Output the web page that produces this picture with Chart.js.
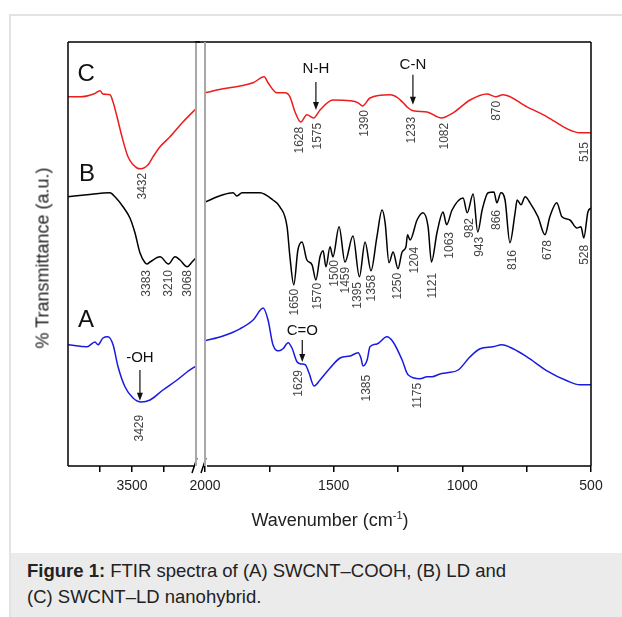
<!DOCTYPE html>
<html>
<head>
<meta charset="utf-8">
<script src="https://cdn.jsdelivr.net/npm/chart.js@4.4.1/dist/chart.umd.min.js"></script>
<style>
    body { margin: 0; background: #fff; font-family: "Liberation Sans", Arial, sans-serif; }
    #page { position: relative; width: 622px; height: 617px; overflow: hidden; background: #fff; }
    #frame { position: absolute; left: 9px; top: 14px; width: 660px; height: 660px; border: 2px solid #e3e3e3; }
    #caption { position: absolute; left: 11px; top: 553px; width: 640px; height: 70px; background: #ebebeb;
               color: #222; font-size: 18.5px; line-height: 26px; padding: 5px 0 0 16px; box-sizing: border-box; }
    #leftWrap { position: absolute; left: 0; top: 0; width: 200px; height: 520px; }
    #rightWrap { position: absolute; left: 180px; top: 0; width: 442px; height: 520px; }
    .ytitle { position: absolute; left: 43px; top: 258px; transform: translate(-50%, -50%) rotate(-90deg);
              white-space: nowrap; font-size: 18px; color: #222; }
    .xtitle { position: absolute; left: 330px; top: 520px; transform: translate(-50%, -50%);
              white-space: nowrap; font-size: 18px; color: #222; }
    .xtitle sup { font-size: 11px; }
</style>
</head>
<body>
<div id="page">
    <div id="frame"></div>
    <div id="leftWrap"><canvas id="leftChart" width="200" height="520"></canvas></div>
    <div id="rightWrap"><canvas id="rightChart" width="442" height="520"></canvas></div>
    <div class="ytitle">% Transmittance (a.u.)</div>
    <div class="xtitle">Wavenumber (cm<sup>-1</sup>)</div>
    <div id="caption"><b>Figure 1:</b> FTIR spectra of (A) SWCNT–COOH, (B) LD and<br>(C) SWCNT–LD nanohybrid.</div>
</div>
<script>
// spectrum C : SWCNT-LD nanohybrid (wavenumber / transmittance a.u.)
const wnC = [4000, 3906, 3800, 3750, 3727, 3672, 3648, 3617, 3578, 3531, 3461, 3432, 3375, 3336, 3281, 3203, 3102, 3000,
    2000, 1930, 1864, 1813, 1770, 1755, 1720, 1689, 1670, 1650, 1628, 1604, 1578, 1553, 1503, 1436, 1405, 1388, 1359,
    1281, 1250, 1230, 1210, 1191, 1137, 1082, 1036, 970, 904, 870, 842, 749, 671, 593, 543, 500];
const trC = [92.3, 92.3, 93.0, 93.8, 93.0, 92.8, 91.0, 87.3, 82.3, 77.3, 74.5, 74.3, 75.3, 77.3, 79.8, 82.3, 86.0, 89.3,
    93.3, 94.3, 95.0, 95.8, 97.3, 95.8, 93.3, 93.3, 92.3, 88.5, 86.0, 87.8, 87.0, 89.0, 91.5, 91.3, 90.8, 90.0, 92.0,
    92.8, 92.0, 90.8, 89.5, 88.8, 88.5, 87.0, 88.3, 91.5, 93.0, 92.3, 92.8, 89.8, 87.3, 84.3, 83.3, 83.3];

// spectrum B : LD
const wnB = [4000, 3852, 3672, 3633, 3570, 3516, 3477, 3438, 3398, 3383, 3359, 3281, 3215, 3164, 3125, 3070, 3031, 3000,
    2000, 1930, 1891, 1876, 1856, 1786, 1736, 1709, 1681, 1670, 1655, 1639, 1623, 1604, 1584, 1569, 1553, 1541, 1530,
    1514, 1503, 1479, 1456, 1425, 1400, 1378, 1355, 1332, 1312, 1300, 1285, 1269, 1250, 1234, 1219, 1213, 1203, 1176,
    1153, 1133, 1120, 1098, 1075, 1061, 1040, 997, 981, 958, 940, 923, 900, 877, 866, 850, 834, 815, 795, 787, 772,
    756, 737, 706, 679, 660, 633, 613, 582, 555, 539, 528, 512, 500];
const trB = [67.3, 67.8, 68.3, 67.3, 64.8, 62.0, 58.3, 53.3, 50.8, 50.5, 51.0, 52.3, 50.5, 52.3, 51.5, 49.8, 51.0, 52.0,
    66.0, 67.8, 68.3, 67.5, 68.3, 68.3, 66.5, 64.8, 59.8, 52.3, 45.3, 54.0, 56.0, 51.5, 50.3, 46.5, 52.3, 53.8, 49.8,
    54.8, 52.3, 59.8, 51.0, 57.5, 47.3, 56.0, 48.8, 57.3, 64.0, 60.8, 50.8, 53.5, 49.3, 53.5, 54.8, 57.8, 56.5, 61.5,
    63.3, 59.8, 51.0, 58.5, 63.5, 60.3, 64.0, 67.0, 63.3, 68.0, 58.5, 64.0, 68.3, 68.5, 65.8, 68.3, 66.5, 55.8, 63.3, 66.5, 65.3,
    67.3, 65.8, 62.3, 57.8, 62.3, 65.8, 62.3, 61.5, 59.5, 59.8, 57.0, 63.5, 64.5];

// spectrum A : SWCNT-COOH
const wnA = [4000, 3852, 3789, 3766, 3727, 3688, 3648, 3609, 3555, 3492, 3429, 3359, 3258, 3148, 3070, 3000,
    2000, 1930, 1864, 1813, 1774, 1755, 1736, 1712, 1697, 1677, 1662, 1642, 1625, 1610, 1596, 1576, 1553, 1514, 1475,
    1436, 1405, 1394, 1386, 1370, 1359, 1332, 1293, 1269, 1234, 1211, 1164, 1137, 1118, 1087, 1059, 1016, 970, 931,
    881, 846, 803, 749, 671, 593, 543, 500];
const trA = [30.3, 29.8, 31.0, 30.3, 32.0, 32.3, 30.3, 24.8, 19.8, 17.0, 16.0, 16.5, 19.0, 21.5, 23.5, 25.0,
    31.3, 32.5, 34.3, 36.5, 39.5, 36.5, 30.3, 28.8, 29.3, 30.8, 29.5, 26.0, 25.5, 25.3, 23.3, 20.0, 21.5, 24.5, 27.0,
    27.5, 28.3, 27.0, 25.0, 26.5, 29.8, 30.5, 32.3, 31.0, 26.5, 22.8, 21.8, 22.3, 22.3, 23.0, 23.3, 24.0, 27.3, 29.3,
    29.8, 30.3, 29.3, 27.3, 23.8, 21.3, 20.3, 20.3];

const FONT = '"Liberation Sans", Arial, sans-serif';

// peak labels : text, x (wavenumber), y (top of label, a.u.)
const peakLabels = [
    ['3432', 3414, 73.3], ['1628', 1631, 84.8], ['1575', 1561, 85.8], ['1390', 1378, 89.0], ['1233', 1196, 87.3],
    ['1082', 1067, 85.8], ['870', 865, 91.3], ['515', 523, 81.0],
    ['3383', 3383, 49.0], ['3210', 3211, 49.0], ['3068', 3063, 49.0], ['1650', 1650, 44.3], ['1570', 1561, 45.8],
    ['1500', 1495, 51.5], ['1459', 1452, 49.8], ['1395', 1405, 46.0], ['1358', 1351, 47.8], ['1250', 1250, 48.3],
    ['1204', 1184, 54.8], ['1121', 1114, 48.3], ['1063', 1048, 58.5], ['982', 970, 62.0], ['943', 931, 57.3],
    ['866', 865, 64.0], ['816', 803, 54.0], ['678', 667, 56.5], ['528', 523, 55.3],
    ['3429', 3438, 12.8], ['1629', 1635, 24.0], ['1385', 1370, 22.8], ['1175', 1172, 20.8]
];
// group labels with arrow : text, x, text y, arrow from, arrow to
const arrowLabels = [
    ['N-H', 1569, 99.3, 96.0, 89.0],
    ['C-N', 1192, 100.3, 97.8, 90.3],
    ['-OH', 3438, 27.0, 24.0, 16.3],
    ['C=O', 1622, 33.8, 31.5, 26.0]
];
const curveLetters = [['C', 3859, 98.0], ['B', 3852, 72.8], ['A', 3859, 36.5]];

function makeSets(lo, hi) {
    const pick = (wn, tr) => wn.map((w, i) => ({ x: w, y: tr[i] })).filter(p => p.x >= lo && p.x <= hi);
    const base = { pointRadius: 0, borderWidth: 1.5, fill: false, cubicInterpolationMode: 'monotone' };
    return [
        Object.assign({ label: 'C', data: pick(wnC, trC), borderColor: '#ee1c1c' }, base),
        Object.assign({ label: 'B', data: pick(wnB, trB), borderColor: '#000000' }, base),
        Object.assign({ label: 'A', data: pick(wnA, trA), borderColor: '#1a1ae0' }, base)
    ];
}

function inRange(scale, v) {
    return v >= scale.min && v <= scale.max;
}

const annotPlugin = {
    id: 'annot',
    afterDraw(chart) {
        const ctx = chart.ctx;
        const ca = chart.chartArea;
        const xs = chart.scales.x, ys = chart.scales.y;
        const side = chart.options.plugins.annot.side;
        ctx.save();
        // frame
        ctx.strokeStyle = '#000';
        ctx.lineWidth = 1.5;
        ctx.beginPath();
        if (side === 'L') {
            ctx.moveTo(ca.left, ca.top); ctx.lineTo(ca.right + 4, ca.top);
            ctx.moveTo(ca.left, ca.top); ctx.lineTo(ca.left, ca.bottom);
            ctx.moveTo(ca.left, ca.bottom); ctx.lineTo(ca.right - 1, ca.bottom);
            ctx.moveTo(ca.right - 4, ca.bottom + 7); ctx.lineTo(ca.right + 1, ca.bottom - 8);
        } else {
            ctx.moveTo(ca.left - 10, ca.top); ctx.lineTo(ca.right, ca.top);
            ctx.moveTo(ca.right, ca.top); ctx.lineTo(ca.right, ca.bottom);
            ctx.moveTo(ca.left + 2, ca.bottom); ctx.lineTo(ca.right, ca.bottom);
            ctx.moveTo(ca.left - 4, ca.bottom + 7); ctx.lineTo(ca.left + 1, ca.bottom - 8);
        }
        ctx.stroke();
        // break line
        ctx.strokeStyle = '#a8a8a8';
        ctx.lineWidth = 2;
        const bx = side === 'L' ? ca.right : ca.left;
        ctx.beginPath(); ctx.moveTo(bx, ca.top); ctx.lineTo(bx, ca.bottom); ctx.stroke();

        // peak labels
        ctx.fillStyle = '#444';
        ctx.font = '12px ' + FONT;
        ctx.textAlign = 'right';
        ctx.textBaseline = 'middle';
        peakLabels.forEach(([txt, wn, t]) => {
            if (!inRange(xs, wn)) return;
            ctx.save();
            ctx.translate(xs.getPixelForValue(wn), ys.getPixelForValue(t));
            ctx.rotate(-Math.PI / 2);
            ctx.fillText(txt, 0, 0);
            ctx.restore();
        });

        // arrow labels
        ctx.fillStyle = '#111';
        ctx.strokeStyle = '#111';
        ctx.lineWidth = 1.2;
        ctx.font = '15px ' + FONT;
        ctx.textAlign = 'center';
        arrowLabels.forEach(([txt, wn, ty, a1, a2]) => {
            if (!inRange(xs, wn)) return;
            const x = xs.getPixelForValue(wn);
            ctx.fillText(txt, x, ys.getPixelForValue(ty));
            const y1 = ys.getPixelForValue(a1), y2 = ys.getPixelForValue(a2);
            ctx.beginPath(); ctx.moveTo(x, y1); ctx.lineTo(x, y2 - 6); ctx.stroke();
            ctx.beginPath(); ctx.moveTo(x - 3, y2 - 8); ctx.lineTo(x + 3, y2 - 8); ctx.lineTo(x, y2); ctx.closePath(); ctx.fill();
        });

        // curve letters
        ctx.font = '24px ' + FONT;
        curveLetters.forEach(([txt, wn, t]) => {
            if (!inRange(xs, wn)) return;
            ctx.fillText(txt, xs.getPixelForValue(wn), ys.getPixelForValue(t));
        });
        ctx.restore();
    }
};

function xAxis(lo, hi) {
    return {
        type: 'linear', min: lo, max: hi, reverse: true,
        afterFit: s => { s.height = 40; },
        afterBuildTicks: s => { s.ticks = s.ticks.filter(t => t.value > lo - 1 && t.value < 4000 && t.value !== 3000); },
        ticks: {
            stepSize: 250, autoSkip: false, maxRotation: 0, padding: 6, color: '#222',
            font: { family: FONT, size: 14 },
            callback: v => (v % 500 === 0 ? String(v) : '')
        },
        grid: { drawOnChartArea: false, drawTicks: true, tickLength: 6, color: '#000', lineWidth: 1.5 },
        border: { display: false }
    };
}

function makeChart(id, lo, hi, side, padding) {
    return new Chart(document.getElementById(id).getContext('2d'), {
        type: 'line',
        data: { datasets: makeSets(lo, hi) },
        options: {
            responsive: false,
            animation: false,
            layout: { padding },
            plugins: { legend: { display: false }, tooltip: { enabled: false }, annot: { side } },
            scales: {
                x: xAxis(lo, hi),
                y: { display: false, min: 0, max: 106 }
            }
        },
        plugins: [annotPlugin]
    });
}

makeChart('leftChart', 3000, 4000, 'L', { left: 68, right: 4, top: 42, bottom: 14 });
makeChart('rightChart', 500, 2000, 'R', { left: 25, right: 31, top: 42, bottom: 14 });
</script>
</body>
</html>
